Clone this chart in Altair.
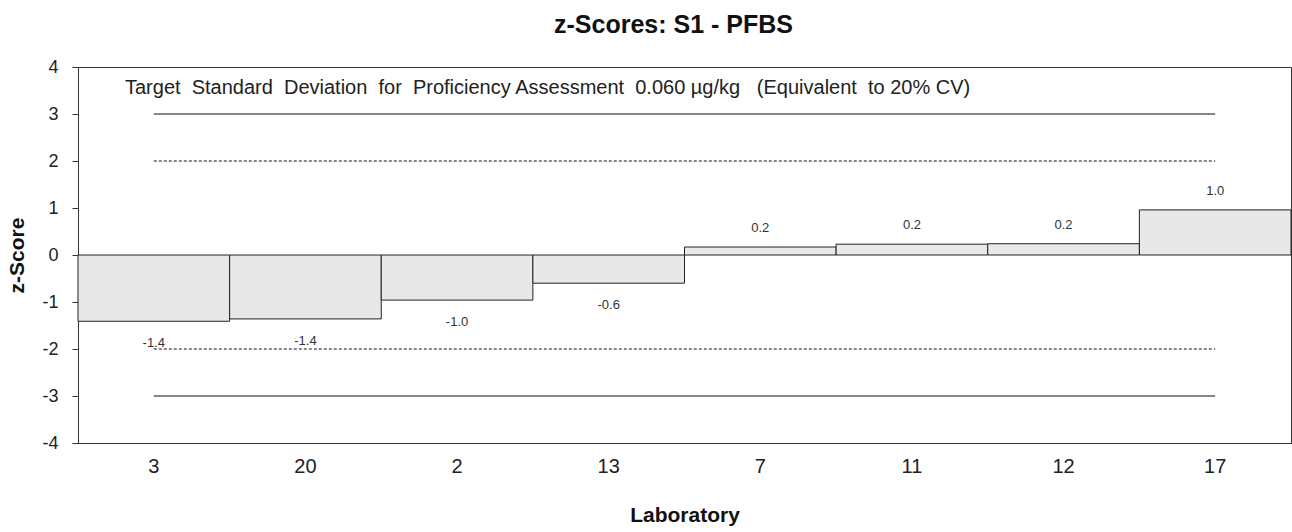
import altair as alt
import pandas as pd

# Laboratory z-scores, in plotted order
labs = ["3", "20", "2", "13", "7", "11", "12", "17"]
z_scores = [-1.41, -1.36, -0.96, -0.60, 0.17, 0.23, 0.24, 0.96]

# Action / warning limits
limit_values = [3, 2, -2, -3]
limit_dashed = [False, True, True, False]

# wide gaps kept with no-break spaces (SVG collapses ordinary runs of spaces)
NB = "\u00a0"
note = (f"Target {NB}Standard {NB}Deviation {NB}for {NB}Proficiency Assessment "
        f"{NB}0.060 µg/kg {NB}{NB}(Equivalent {NB}to 20% CV)")

df = pd.DataFrame({"lab": labs, "z": z_scores})
df["label"] = [f"{v:.1f}" for v in z_scores]
limits = pd.DataFrame({"y": limit_values, "dashed": limit_dashed,
                       "x1": labs[0], "x2": labs[-1]})

FONT = "Liberation Sans"

x_scale = alt.Scale(domain=labs, paddingInner=0, paddingOuter=0)
y_scale = alt.Scale(domain=[-4, 4], nice=False)

x_enc = alt.X("lab:N", scale=x_scale, title="Laboratory",
              axis=alt.Axis(labelAngle=0, ticks=False, labelPadding=13,
                            labelFontSize=20, labelColor="#222",
                            titleFontSize=21, titleFontWeight="bold",
                            titleY=72, titleBaseline="middle",
                            domainColor="#333"))
y_enc = alt.Y("z:Q", scale=y_scale, title="z-Score",
              axis=alt.Axis(values=list(range(-4, 5)), labelExpr="'' + datum.value",
                            grid=False, tickSize=6, tickColor="#333", labelPadding=14,
                            labelFontSize=18, labelColor="#222",
                            domainColor="#333",
                            titleFontSize=21, titleFontWeight="bold",
                            titleAngle=270, titleX=-61, titleY=188,
                            titleAlign="center", titleBaseline="middle"))

bars = alt.Chart(df).mark_bar(fill="#e8e8e8", stroke="#222", strokeWidth=1).encode(
    x=x_enc, y=y_enc, y2=alt.datum(0)
)

neg_labels = alt.Chart(df).transform_filter("datum.z < 0").mark_text(
    fontSize=13, font=FONT, color="#333", dy=22, baseline="middle"
).encode(x=alt.X("lab:N", scale=x_scale), y=alt.Y("z:Q", scale=y_scale), text="label:N")

pos_labels = alt.Chart(df).transform_filter("datum.z >= 0").mark_text(
    fontSize=13, font=FONT, color="#333", dy=-19, baseline="middle"
).encode(x=alt.X("lab:N", scale=x_scale), y=alt.Y("z:Q", scale=y_scale), text="label:N")

solid_rules = alt.Chart(limits).transform_filter("!datum.dashed").mark_rule(
    color="#111", strokeWidth=1
).encode(x=alt.X("x1:N", scale=x_scale), x2="x2:N", y=alt.Y("y:Q", scale=y_scale))

dashed_rules = alt.Chart(limits).transform_filter("datum.dashed").mark_rule(
    color="#111", strokeWidth=1, strokeDash=[3, 2]
).encode(x=alt.X("x1:N", scale=x_scale), x2="x2:N", y=alt.Y("y:Q", scale=y_scale))

note_text = alt.Chart(pd.DataFrame({"t": [note]})).mark_text(
    align="left", baseline="middle", fontSize=20, font=FONT, color="#222"
).encode(x=alt.value(47), y=alt.value(21), text="t:N")

chart = alt.layer(bars, solid_rules, dashed_rules, neg_labels, pos_labels, note_text).properties(
    width=1213, height=376,
    title=alt.Title("z-Scores: S1 - PFBS", fontSize=25, fontWeight="bold",
                    font=FONT, color="#111", anchor="middle",
                    offset=20, dx=-11),
    autosize=alt.AutoSizeParams(type="none"),
    padding={"left": 78, "top": 67, "right": 1, "bottom": 89},
).configure(font=FONT).configure_view(stroke="#333", strokeWidth=1).configure_axis(
    labelFont=FONT, titleFont=FONT, titleColor="#111"
)

chart.save("out.html", embed_options={"renderer": "svg", "actions": False})
